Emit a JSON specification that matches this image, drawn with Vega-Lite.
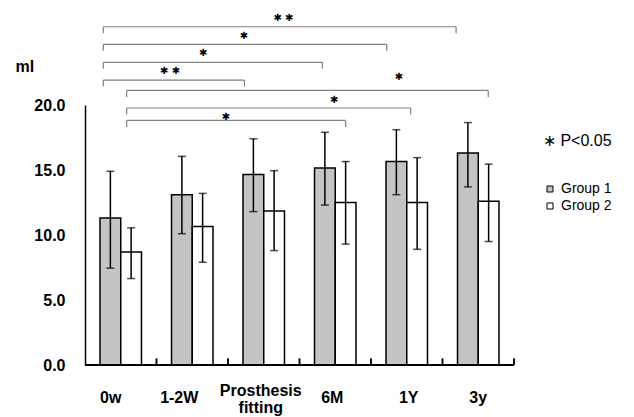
{
  "$schema": "https://vega.github.io/schema/vega-lite/v6.json",
  "autosize": {"type": "none"},
  "padding": {"left": 85, "top": 105, "right": 120, "bottom": 52},
  "width": 429,
  "height": 260,
  "background": "white",
  "config": {"view": {"stroke": null}},
  "datasets": {
    "bars": [
      {"time": "0w", "group": "Group 1", "mean": 11.3, "lo": 7.45, "hi": 14.9},
      {"time": "0w", "group": "Group 2", "mean": 8.7, "lo": 6.65, "hi": 10.55},
      {"time": "1-2W", "group": "Group 1", "mean": 13.1, "lo": 10.1, "hi": 16.05},
      {"time": "1-2W", "group": "Group 2", "mean": 10.65, "lo": 7.9, "hi": 13.2},
      {"time": "Prosthesis fitting", "group": "Group 1", "mean": 14.65, "lo": 11.8, "hi": 17.4},
      {"time": "Prosthesis fitting", "group": "Group 2", "mean": 11.85, "lo": 8.8, "hi": 14.95},
      {"time": "6M", "group": "Group 1", "mean": 15.15, "lo": 12.3, "hi": 17.9},
      {"time": "6M", "group": "Group 2", "mean": 12.5, "lo": 9.3, "hi": 15.65},
      {"time": "1Y", "group": "Group 1", "mean": 15.65, "lo": 13.1, "hi": 18.1},
      {"time": "1Y", "group": "Group 2", "mean": 12.5, "lo": 8.9, "hi": 15.95},
      {"time": "3y", "group": "Group 1", "mean": 16.3, "lo": 13.7, "hi": 18.65},
      {"time": "3y", "group": "Group 2", "mean": 12.6, "lo": 9.5, "hi": 15.45}
    ],
    "brackets": [
      {"from": 0.256, "to": 5.19, "level": 26.02, "drop": 25.52, "star": "✱ ✱", "starX": 2.776, "starY": 26.67},
      {"from": 0.256, "to": 4.22, "level": 24.67, "drop": 24.17, "star": "✱", "starX": 2.224, "starY": 25.33},
      {"from": 0.256, "to": 3.32, "level": 23.28, "drop": 22.78, "star": "✱", "starX": 1.654, "starY": 23.98},
      {"from": 0.256, "to": 2.23, "level": 21.92, "drop": 21.42, "star": "✱ ✱", "starX": 1.19, "starY": 22.62},
      {"from": 0.583, "to": 5.64, "level": 21.12, "drop": 20.62, "star": "✱", "starX": 4.39, "starY": 22.19},
      {"from": 0.583, "to": 4.555, "level": 19.77, "drop": 19.27, "star": "✱", "starX": 3.485, "starY": 20.38},
      {"from": 0.583, "to": 3.646, "level": 18.81, "drop": 18.31, "star": "✱", "starX": 1.972, "starY": 19.05}
    ]
  },
  "resolve": {"scale": {"x": "independent"}, "axis": {"x": "independent"}},
  "layer": [
    {
      "data": {"name": "bars"},
      "encoding": {
        "x": {
          "field": "time", "type": "nominal",
          "sort": ["0w", "1-2W", "Prosthesis fitting", "6M", "1Y", "3y"],
          "scale": {"paddingInner": 0.42, "paddingOuter": 0.21},
          "axis": {
            "title": null, "labelAngle": 0, "zindex": 1, "domain": false, "ticks": false, "tickSize": 0,
            "labelExpr": "datum.label == 'Prosthesis fitting' ? ['Prosthesis', 'fitting'] : datum.label",
            "labelFont": "Liberation Sans", "labelFontSize": 16, "labelFontWeight": "bold", "labelColor": "black",
            "labelBaseline": "middle", "labelLineHeight": 17,
            "labelPadding": {"condition": {"test": "datum.value == 'Prosthesis fitting'", "value": 25}, "value": 32},
            "labelOffset": {"condition": [
              {"test": "datum.value == '0w'", "value": -10},
              {"test": "datum.value == '1-2W'", "value": -13},
              {"test": "datum.value == 'Prosthesis fitting'", "value": -3},
              {"test": "datum.value == '6M'", "value": -3},
              {"test": "datum.value == '1Y'", "value": 2}
            ], "value": 0}
          }
        }
      },
      "layer": [
        {
          "mark": {"type": "bar", "stroke": "black", "strokeWidth": 1.5},
          "encoding": {
            "xOffset": {"field": "group", "type": "nominal", "sort": ["Group 1", "Group 2"]},
            "y": {
              "field": "mean", "type": "quantitative",
              "scale": {"domain": [0, 20], "nice": false},
              "axis": {
                "title": "ml", "values": [0, 5, 10, 15, 20], "format": ".1f", "grid": false, "ticks": false,
                "labelFont": "Liberation Sans", "labelFontSize": 16, "labelFontWeight": "bold", "labelColor": "black",
                "labelPadding": 20, "domainColor": "black", "domainWidth": 1.5,
                "titleAngle": 0, "titleAlign": "left", "titleBaseline": "middle", "titleX": -70, "titleY": -39,
                "titleFont": "Liberation Sans", "titleFontSize": 16, "titleFontWeight": "bold", "titleColor": "black"
              }
            },
            "fill": {
              "field": "group", "type": "nominal",
              "scale": {"domain": ["Group 1", "Group 2"], "range": ["#c4c4c4", "white"]},
              "legend": {
                "orient": "none", "legendX": 458, "legendY": 28, "padding": 0,
                "title": "∗ P<0.05", "titleFont": "Liberation Sans", "titleFontSize": 16, "titleFontWeight": "normal",
                "titleColor": "black", "titlePadding": 33,
                "labelFont": "Liberation Sans", "labelFontSize": 14, "labelColor": "black", "labelOffset": 4,
                "symbolType": "square", "symbolSize": 36, "symbolStrokeColor": "black", "symbolStrokeWidth": 1,
                "rowPadding": 3
              }
            }
          }
        },
        {
          "mark": {"type": "rule", "color": "black", "strokeWidth": 1.5},
          "encoding": {
            "xOffset": {"field": "group", "type": "nominal", "sort": ["Group 1", "Group 2"]},
            "y": {"field": "lo", "type": "quantitative"},
            "y2": {"field": "hi"}
          }
        },
        {
          "mark": {"type": "tick", "color": "black", "size": 8, "thickness": 1.5},
          "encoding": {
            "xOffset": {"field": "group", "type": "nominal", "sort": ["Group 1", "Group 2"]},
            "y": {"field": "lo", "type": "quantitative"}
          }
        },
        {
          "mark": {"type": "tick", "color": "black", "size": 8, "thickness": 1.5},
          "encoding": {
            "xOffset": {"field": "group", "type": "nominal", "sort": ["Group 1", "Group 2"]},
            "y": {"field": "hi", "type": "quantitative"}
          }
        },
        {
          "mark": {"type": "rule", "color": "black", "strokeWidth": 1.5},
          "encoding": {
            "x": {"field": "time", "type": "nominal", "sort": ["0w", "1-2W", "Prosthesis fitting", "6M", "1Y", "3y"], "bandPosition": 1.362},
            "y": {"datum": 0, "type": "quantitative"},
            "y2": {"datum": 0.5}
          }
        }
      ]
    },
    {
      "data": {"name": "brackets"},
      "layer": [
        {
          "mark": {"type": "rule", "color": "black", "strokeWidth": 1.5},
          "encoding": {"y": {"datum": 0, "type": "quantitative"}}
        },
        {
          "mark": {"type": "rule", "color": "#808080", "strokeWidth": 1.2},
          "encoding": {
            "x": {
              "field": "from", "type": "quantitative",
              "scale": {"domain": [0, 6], "nice": false, "zero": false},
              "axis": null
            },
            "x2": {"field": "to"},
            "y": {"field": "level", "type": "quantitative"}
          }
        },
        {
          "mark": {"type": "rule", "color": "#808080", "strokeWidth": 1.2},
          "encoding": {
            "x": {"field": "from", "type": "quantitative"},
            "y": {"field": "level", "type": "quantitative"},
            "y2": {"field": "drop"}
          }
        },
        {
          "mark": {"type": "rule", "color": "#808080", "strokeWidth": 1.2},
          "encoding": {
            "x": {"field": "to", "type": "quantitative"},
            "y": {"field": "level", "type": "quantitative"},
            "y2": {"field": "drop"}
          }
        },
        {
          "mark": {"type": "text", "font": "DejaVu Sans", "fontSize": 10, "baseline": "middle", "align": "center", "color": "black"},
          "encoding": {
            "x": {"field": "starX", "type": "quantitative"},
            "y": {"field": "starY", "type": "quantitative"},
            "text": {"field": "star"}
          }
        }
      ]
    }
  ]
}
